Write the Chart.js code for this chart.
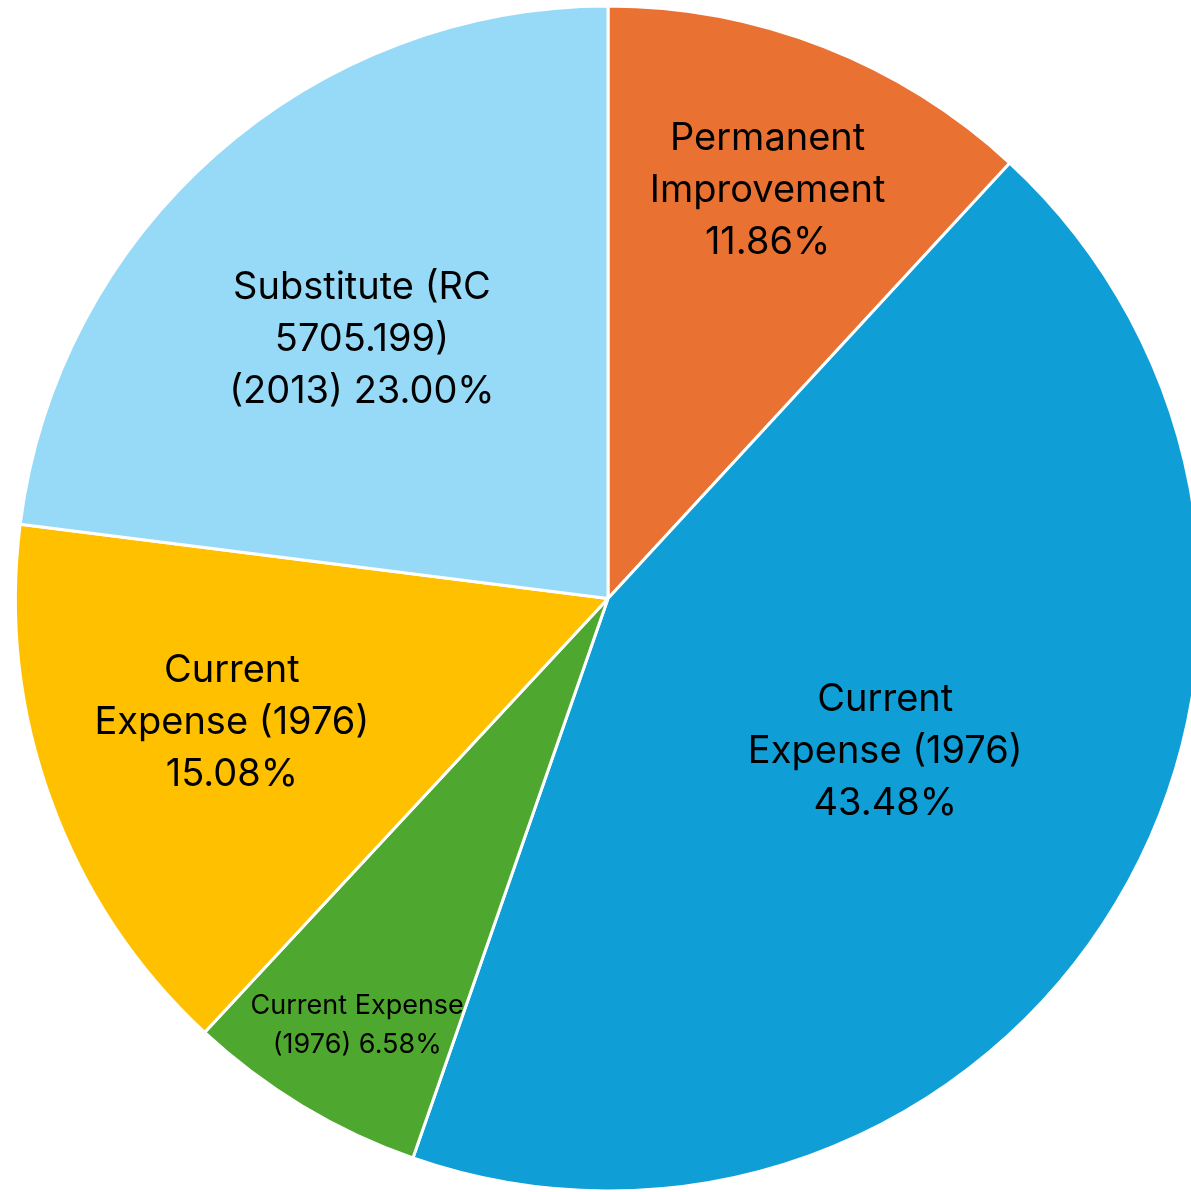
<!DOCTYPE html>
<html>
<head>
<meta charset="utf-8">
<script src="https://cdn.jsdelivr.net/npm/chart.js"></script>
<style>
  html, body { margin: 0; padding: 0; background: #fff; overflow: hidden; width: 1191px; height: 1192px; }
  #wrap { width: 1216px; height: 1194px; }
</style>
</head>
<body>
<div id="wrap"><canvas id="grafico_pizza"></canvas></div>
<script>
  // ---------- dados ----------
  const categorias = [
    "Permanent Improvement",
    "Current Expense (1976)",
    "Current Expense (1976)",
    "Current Expense (1976)",
    "Substitute (RC 5705.199) (2013)"
  ];
  const valores = [11.86, 43.48, 6.58, 15.08, 23.00];
  const rotulos = [
    ["Permanent", "Improvement", "11.86%"],
    ["Current", "Expense (1976)", "43.48%"],
    ["Current Expense", "(1976) 6.58%"],
    ["Current", "Expense (1976)", "15.08%"],
    ["Substitute (RC", "5705.199)", "(2013) 23.00%"]
  ];
  const cores = ["#E97132", "#0F9ED5", "#4EA72E", "#FFC000", "#97DAF7"];

  // rótulos dentro das fatias
  const rotulosPlugin = {
    id: "rotulos",
    afterDatasetsDraw(chart, args, opts) {
      const ctx = chart.ctx;
      const arcs = chart.getDatasetMeta(0).data;
      arcs.forEach((arc, i) => {
        const mid = (arc.startAngle + arc.endAngle) / 2;
        const r = arc.outerRadius * opts.raio[i];
        const x = arc.x + Math.cos(mid) * r + opts.ajuste[i][0];
        const y = arc.y + Math.sin(mid) * r + opts.ajuste[i][1];
        const size = opts.tamanho[i];
        const lh = opts.linha[i];
        const linhas = rotulos[i];
        ctx.save();
        ctx.fillStyle = "#000";
        ctx.textAlign = "center";
        ctx.textBaseline = "middle";
        ctx.font = size + "px Inter, 'Open Sans', sans-serif";
        linhas.forEach((t, k) => {
          ctx.fillText(t, x, y + (k - (linhas.length - 1) / 2) * lh);
        });
        ctx.restore();
      });
    }
  };

  const ctx1 = document.getElementById("grafico_pizza").getContext("2d");
  new Chart(ctx1, {
    type: "pie",
    data: {
      labels: categorias,
      datasets: [{
        data: valores,
        backgroundColor: cores,
        borderColor: "#ffffff",
        borderWidth: 3
      }]
    },
    options: {
      responsive: true,
      maintainAspectRatio: false,
      animation: false,
      layout: { padding: { left: 14, right: 14, top: 3, bottom: 0 } },
      plugins: {
        legend: { display: false },
        tooltip: { enabled: false },
        rotulos: {
          raio: [0.74, 0.53, 0.83, 0.67, 0.6],
          ajuste: [[0, 0], [8, -8], [3, 6], [-3, -11], [-11, 8]],
          tamanho: [38, 38, 27, 38, 38],
          linha: [52, 52, 39, 52, 52]
        }
      }
    },
    plugins: [rotulosPlugin]
  });
</script>
</body>
</html>
